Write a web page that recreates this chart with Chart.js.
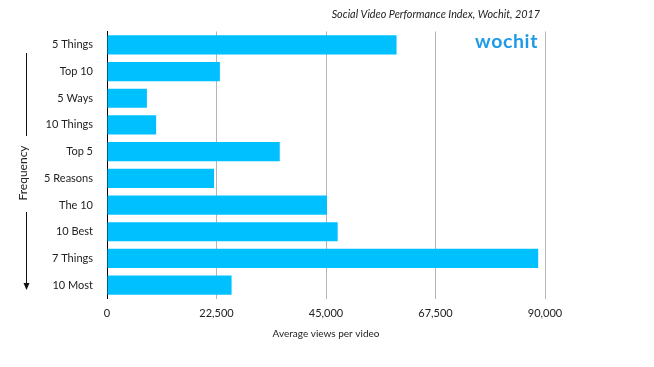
<!DOCTYPE html>
<html>
<head>
<meta charset="utf-8">
<script src="https://cdn.jsdelivr.net/npm/chart.js@4/dist/chart.umd.min.js"></script>
<style>
html,body{margin:0;padding:0;background:#fff;}
#wrap{position:relative;width:654px;height:367px;}
</style>
</head>
<body>
<div id="wrap"><canvas id="c" width="654" height="367"></canvas></div>
<script>
const categories = ["5 Things","Top 10","5 Ways","10 Things","Top 5","5 Reasons","The 10","10 Best","7 Things","10 Most"];
const avgViews = [59500, 23200, 8200, 10100, 35500, 22000, 45200, 47400, 88600, 25600];
const xTicks = [0, 22500, 45000, 67500, 90000];
const chartTitle = "Social Video Performance Index, Wochit, 2017";
const xAxisTitle = "Average views per video";
const yAxisTitle = "Frequency";
const logoText = "wochit";

const FONT = "Lato, 'Open Sans', sans-serif";

const decor = {
  id: 'decor',
  afterDraw(chart) {
    const ctx = chart.ctx;
    ctx.save();
    // title
    ctx.fillStyle = '#222';
    ctx.font = "italic 10.8px " + FONT;
    ctx.textAlign = 'right';
    ctx.textBaseline = 'middle';
    ctx.fillText(chartTitle, 540, 15);
    // logo
    ctx.fillStyle = '#1E9BE8';
    ctx.font = "bold 19.5px " + FONT;
    ctx.letterSpacing = '0.6px';
    ctx.textAlign = 'right';
    ctx.textBaseline = 'alphabetic';
    ctx.fillText(logoText, 538, 48);
    ctx.letterSpacing = '0px';
    // Frequency label
    ctx.fillStyle = '#222';
    ctx.font = "12px " + FONT;
    ctx.translate(23, 173);
    ctx.rotate(-Math.PI/2);
    ctx.textAlign = 'center';
    ctx.textBaseline = 'middle';
    ctx.fillText(yAxisTitle, 0, 0);
    ctx.restore();
    // arrow lines
    ctx.save();
    ctx.strokeStyle = '#111';
    ctx.lineWidth = 1;
    ctx.beginPath();
    ctx.moveTo(26.5, 53); ctx.lineTo(26.5, 136);
    ctx.moveTo(26.5, 212); ctx.lineTo(26.5, 284);
    ctx.stroke();
    ctx.fillStyle = '#111';
    ctx.beginPath();
    ctx.moveTo(23.5, 283); ctx.lineTo(29.5, 283); ctx.lineTo(26.5, 290); ctx.closePath();
    ctx.fill();
    ctx.restore();
  }
};

new Chart(document.getElementById('c'), {
  type: 'bar',
  data: {
    labels: categories,
    datasets: [{
      data: avgViews,
      backgroundColor: '#00C0FF',
      borderWidth: 0,
      barPercentage: 0.72,
      categoryPercentage: 1.0
    }]
  },
  options: {
    indexAxis: 'y',
    responsive: false,
    animation: false,
    events: [],
    layout: { padding: { top: 31.5, right: 109, bottom: 0, left: 0 } },
    plugins: { legend: { display: false }, tooltip: { enabled: false }, title: { display: false } },
    scales: {
      x: {
        min: 0, max: 90000,
        afterBuildTicks(scale) { scale.ticks = xTicks.map(v => ({ value: v })); },
        afterFit(scale) { scale.height = 68.5; },
        grid: { color: '#b5b5b5', lineWidth: 1, drawTicks: false },
        border: { display: false },
        ticks: {
          padding: 8,
          color: '#222',
          font: { family: FONT, size: 11 },
          callback: v => v.toLocaleString('en-US')
        },
        title: {
          display: true,
          text: xAxisTitle,
          color: '#222',
          font: { family: FONT, size: 10 },
          padding: { top: 0, bottom: 27 }
        }
      },
      y: {
        afterFit(scale) { scale.width = 107; },
        grid: { display: false, drawTicks: false },
        border: { display: true, color: '#000', width: 1 },
        ticks: {
          padding: 14,
          color: '#222',
          font: { family: FONT, size: 11 }
        }
      }
    }
  },
  plugins: [decor]
});
</script>
</body>
</html>
